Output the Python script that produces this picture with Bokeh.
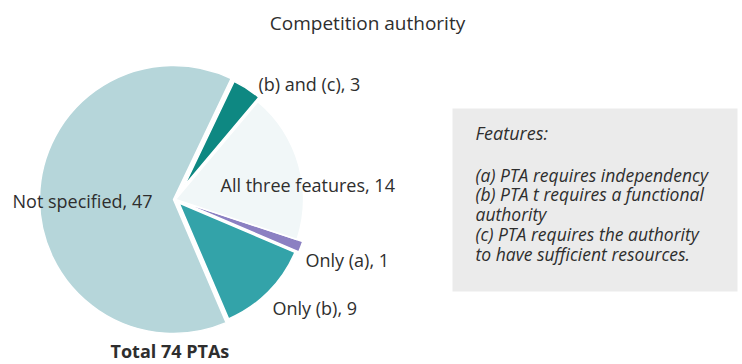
import math
from bokeh.plotting import figure
from bokeh.models import Range1d
from bokeh.core.properties import value
from bokeh.embed import file_html
from bokeh.resources import INLINE

# ---- data ----
categories = ["Only  (b)", "Only  (a)", "All three features", "(b) and (c)", "Not specified"]
counts = [9, 1, 14, 3, 47]
title_text = "Competition authority"
total_text = "Total 74 PTAs"
legend_title = "Features:"
legend_lines = [
    "(a) PTA  requires independency",
    "(b) PTA t requires a functional",
    "authority",
    "(c) PTA requires the authority",
    "to have sufficient resources.",
]

# ---- style ----
colors = ["#33a3a9", "#8b80c2", "#f1f7f8", "#0e8882", "#b6d6da"]
radii = [126, 130, 128, 116, 134]
explode = [5, 4, 0, 16, 2]
label_pos = [(272, 307), (305, 259), (220, 184), (258, 83), (12, 200)]
FONT = "Open Sans"
TXT = "#2e2e2e"
W, H = 742, 364

def Y(y):
    return H - y

p = figure(width=W, height=H, x_range=Range1d(0, W), y_range=Range1d(0, H),
           output_backend="svg", toolbar_location=None, min_border=0)
p.axis.visible = False
p.grid.visible = False
p.outline_line_color = None
p.background_fill_color = "white"
p.border_fill_color = "white"

# legend box
p.quad(left=[452], right=[737], top=[Y(108)], bottom=[Y(291)],
       fill_color="#ebebeb", line_color=None)

# pie
total = sum(counts)
cx, cy = 175, Y(199)
start = math.radians(64.5) - 2 * math.pi * (total - counts[-1]) / total
a = start
for cat, c, col, r, e in zip(categories, counts, colors, radii, explode):
    b = a + 2 * math.pi * c / total
    mid = (a + b) / 2
    p.wedge(x=[cx + e * math.cos(mid)], y=[cy + e * math.sin(mid)], radius=r,
            start_angle=a, end_angle=b, fill_color=col,
            line_color="white", line_width=1.5)
    a = b

# slice labels
for cat, c, (lx, ly) in zip(categories, counts, label_pos):
    p.text(x=[lx], y=[Y(ly)], text=[f"{cat}, {c}"], text_font=value(FONT),
           text_font_size="18px", text_color=TXT, text_baseline="middle", text_align="left")

p.text(x=[367], y=[Y(22)], text=[title_text], text_font=value(FONT), text_font_size="19px",
       text_color=TXT, text_baseline="middle", text_align="center")
p.text(x=[110], y=[Y(350)], text=[total_text], text_font=value(FONT), text_font_size="18px",
       text_font_style="bold", text_color=TXT, text_baseline="middle", text_align="left")

# legend text
p.text(x=[475], y=[Y(132)], text=[legend_title], text_font=value(FONT), text_font_size="18px",
       text_font_style="italic", text_color=TXT, text_baseline="middle", text_align="left")
for i, line in enumerate(legend_lines):
    p.text(x=[475], y=[Y(174 + i * 19.8)], text=[line], text_font=value(FONT),
           text_font_size="17.5px", text_font_style="italic", text_color=TXT,
           text_baseline="middle", text_align="left")

open("out.html", "w").write(file_html(p, INLINE))
